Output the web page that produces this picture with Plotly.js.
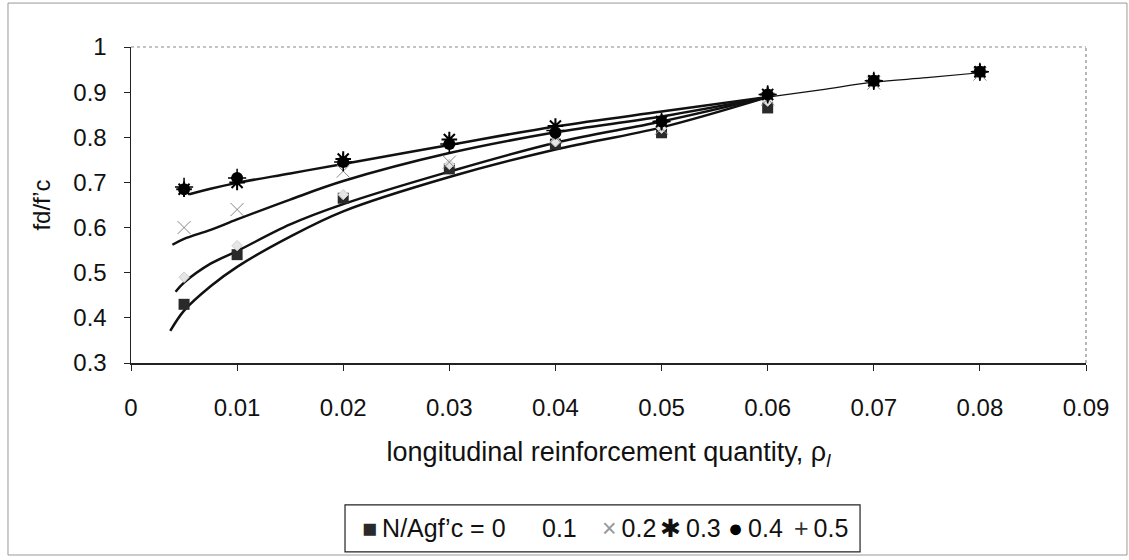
<!DOCTYPE html>
<html><head><meta charset="utf-8">
<script src="https://cdn.plot.ly/plotly-3.0.1.min.js"></script>
<style>html,body{margin:0;padding:0;background:#fff}</style>
</head><body>
<div id="chart" style="width:1129px;height:560px"></div>
<script>
// data
const rho   = [0.005, 0.01, 0.02, 0.03, 0.04, 0.05, 0.06, 0.07, 0.08];
const nA00  = [0.43, 0.54, 0.665, 0.73, 0.785, 0.81, 0.865, 0.925, 0.945];
const nA01  = [0.49, 0.56, 0.673, 0.74, 0.79, 0.82, 0.88, 0.925, 0.94];
const nA02  = [0.60, 0.64, 0.725, 0.745, 0.80, 0.82, 0.885, 0.92, 0.94];
const nA03  = [0.685, 0.70, 0.752, 0.795, 0.825, 0.835, 0.895, 0.925, 0.945];
const nA04  = [0.685, 0.71, 0.745, 0.785, 0.81, 0.835, 0.895, 0.925, 0.945];
const nA05  = [0.69, 0.71, 0.745, 0.785, 0.815, 0.835, 0.895, 0.925, 0.945];
const legendNames = ["N/Agf\u2019c = 0", "0.1", "0.2", "0.3", "0.4", "0.5"];
const legendGlyphs = ["\u25A0", "", "\u00D7", "\u2731", "\u25CF", "+"];
const legendGlyphColors = ["#2a2a2a", "#ddd", "#999", "#111", "#000", "#333"];

// fitted curves
const fit0X = [0.0037, 0.005, 0.0075, 0.01, 0.015, 0.02, 0.03, 0.04, 0.05, 0.06];
const fit0Y = [0.371, 0.416, 0.47, 0.513, 0.58, 0.636, 0.712, 0.773, 0.822, 0.889];
const fit1X = [0.0042, 0.005, 0.0075, 0.01, 0.015, 0.02, 0.03, 0.04, 0.05, 0.06];
const fit1Y = [0.458, 0.478, 0.52, 0.548, 0.607, 0.652, 0.724, 0.788, 0.835, 0.889];
const fit2X = [0.0039, 0.005, 0.0075, 0.01, 0.015, 0.02, 0.03, 0.04, 0.05, 0.06];
const fit2Y = [0.562, 0.575, 0.595, 0.618, 0.662, 0.703, 0.765, 0.811, 0.846, 0.889];
const fit4X = [0.0055, 0.0075, 0.01, 0.015, 0.02, 0.03, 0.04, 0.05, 0.06];
const fit4Y = [0.674, 0.686, 0.699, 0.72, 0.741, 0.783, 0.824, 0.857, 0.889];
const tailX = [0.06, 0.065, 0.07, 0.075, 0.08];
const tailY = [0.889, 0.905, 0.922, 0.932, 0.943];

const xTicks = [0, 0.01, 0.02, 0.03, 0.04, 0.05, 0.06, 0.07, 0.08, 0.09];
const xTickText = ["0", "0.01", "0.02", "0.03", "0.04", "0.05", "0.06", "0.07", "0.08", "0.09"];
const yTicks = [0.3, 0.4, 0.5, 0.6, 0.7, 0.8, 0.9, 1];
const yTickText = ["0.3", "0.4", "0.5", "0.6", "0.7", "0.8", "0.9", "1"];

const FONT = "Liberation Sans, Arial, sans-serif";
const curve = (x, y, w) => ({x: x, y: y, mode: "lines", type: "scatter", showlegend: false,
  hoverinfo: "skip", line: {color: "#111", width: w, shape: "spline"}});

const traces = [
  curve(fit0X, fit0Y, 2.5), curve(fit1X, fit1Y, 2.5), curve(fit2X, fit2Y, 2.5),
  curve(fit4X, fit4Y, 2.5), curve(tailX, tailY, 1.2),
  {x: rho, y: nA00, name: legendNames[0], mode: "markers", type: "scatter",
   marker: {symbol: "square", size: 11, color: "#2a2a2a"}},
  {x: rho, y: nA01, name: legendNames[1], mode: "markers", type: "scatter",
   marker: {symbol: "diamond", size: 8, color: "#e6e6e6", line: {color: "#cfcfcf", width: 1}}},
  {x: rho, y: nA02, name: legendNames[2], mode: "markers", type: "scatter",
   marker: {symbol: "x-thin-open", size: 13, color: "#888", line: {color: "#888", width: 1}}},
  {x: rho, y: nA03, name: legendNames[3], mode: "markers", type: "scatter",
   marker: {symbol: "asterisk-open", size: 13, color: "#000", line: {color: "#000", width: 2}}},
  {x: rho, y: nA04, name: legendNames[4], mode: "markers", type: "scatter",
   marker: {symbol: "circle", size: 12, color: "#000"}},
  {x: rho, y: nA05, name: legendNames[5], mode: "markers", type: "scatter",
   marker: {symbol: "cross-thin-open", size: 13, color: "#000", line: {color: "#000", width: 1.5}}}
];

// compact legend: one annotation per entry
const legendLeft = [0.2398, 0.4283, 0.4911, 0.5518, 0.6230, 0.6920];
const legendAnn = legendNames.map((nm, i) => ({
  xref: "paper", yref: "paper", x: legendLeft[i], y: -0.522, xanchor: "left", yanchor: "middle",
  showarrow: false, font: {size: 25, color: "#111"},
  text: (legendGlyphs[i] ? '<span style="color:' + legendGlyphColors[i] + '">' + legendGlyphs[i] + '</span>\u2009' : '') + nm
}));

const layout = {
  width: 1129, height: 560,
  margin: {l: 131, r: 43, t: 47, b: 197},
  paper_bgcolor: "#fff", plot_bgcolor: "#fff",
  font: {family: FONT, size: 24, color: "#111"},
  showlegend: false,
  xaxis: {range: [0, 0.09], tickvals: xTicks, ticktext: xTickText, showgrid: false, zeroline: false,
    showline: true, linecolor: "#222", linewidth: 1.5, ticks: "outside", ticklen: 6, tickcolor: "#222",
    ticklabelstandoff: 17, tickfont: {size: 24},
    title: {text: "longitudinal reinforcement quantity, \u03c1<sub><i>l</i></sub>", font: {size: 27}, standoff: 22}},
  yaxis: {range: [0.3, 1], tickvals: yTicks, ticktext: yTickText, showgrid: false, zeroline: false,
    showline: true, linecolor: "#222", linewidth: 1.5, ticks: "outside", ticklen: 6, tickcolor: "#222",
    ticklabelstandoff: 12, tickfont: {size: 24},
    title: {text: "fd/f\u2019c", font: {size: 24}, standoff: 16}},
  xaxis2: {overlaying: "x", range: [0, 0.09], tickvals: xTicks, showticklabels: false, showgrid: false,
    zeroline: false, showline: false, ticks: "inside", ticklen: 5, tickcolor: "#222"},
  yaxis2: {overlaying: "y", range: [0.3, 1], tickvals: yTicks, showticklabels: false, showgrid: false,
    zeroline: false, showline: false, ticks: "inside", ticklen: 5, tickcolor: "#222"},
  annotations: legendAnn,
  shapes: [
    {type: "line", xref: "paper", yref: "paper", x0: 0, x1: 1, y0: 1, y1: 1,
     line: {color: "#888", width: 1.2, dash: "dot"}},
    {type: "line", xref: "paper", yref: "paper", x0: 1, x1: 1, y0: 0, y1: 1,
     line: {color: "#888", width: 1.2, dash: "dot"}},
    {type: "rect", xref: "paper", yref: "paper", x0: 0.2241, x1: 0.7634, y0: -0.598, y1: -0.449,
     line: {color: "#222", width: 1.2}},
    {type: "rect", xref: "paper", yref: "paper", x0: -0.1288, x1: 1.0429, y0: -0.6076, y1: 1.139,
     line: {color: "#999", width: 1}}
  ]
};

Plotly.newPlot("chart", traces, layout, {staticPlot: true, displayModeBar: false});
</script>
</body></html>
